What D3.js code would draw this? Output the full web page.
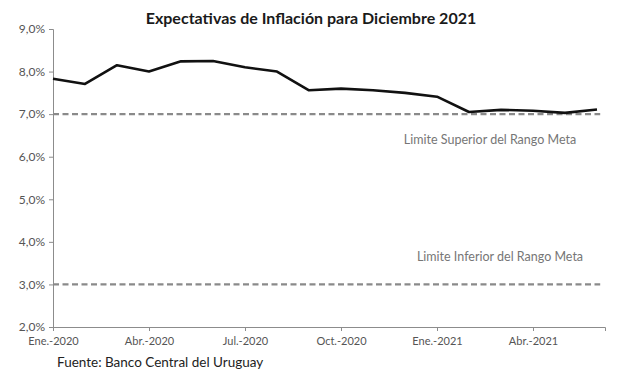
<!DOCTYPE html>
<html>
<head>
<meta charset="utf-8">
<script src="https://cdn.jsdelivr.net/npm/d3@7"></script>
<style>
  body { margin: 0; background: #fff; }
  svg { display: block; }
</style>
</head>
<body>
<svg id="chart"></svg>
<script>
// datos del gráfico
const months = ['Ene.-2020', 'Feb.-2020', 'Mar.-2020', 'Abr.-2020', 'May.-2020', 'Jun.-2020',
  'Jul.-2020', 'Ago.-2020', 'Set.-2020', 'Oct.-2020', 'Nov.-2020', 'Dic.-2020',
  'Ene.-2021', 'Feb.-2021', 'Mar.-2021', 'Abr.-2021', 'May.-2021', 'Jun.-2021']
const expectativas = [7.83, 7.71, 8.15, 8.0, 8.24, 8.25, 8.1, 8.0, 7.56, 7.6,
  7.56, 7.5, 7.41, 7.05, 7.1, 7.08, 7.03, 7.11]
const tickMonths = ['Ene.-2020', 'Abr.-2020', 'Jul.-2020', 'Oct.-2020', 'Ene.-2021', 'Abr.-2021']
const yTicks = [2, 3, 4, 5, 6, 7, 8, 9]
const limites = [
  { value: 7, label: 'Limite Superior del Rango Meta' },
  { value: 3, label: 'Limite Inferior del Rango Meta' },
]

const width = 617, height = 381
const margin = { top: 29, right: 12, bottom: 54, left: 53 }
const font = "Lato, 'Open Sans', sans-serif"

const svg = d3.select('#chart').attr('width', width).attr('height', height)

const x = d3.scaleLinear().domain([0, 17.25]).range([margin.left, width - margin.right])
const y = d3.scaleLinear().domain([2, 9]).range([height - margin.bottom, margin.top])

// título
svg.append('text')
  .attr('x', 311).attr('y', 24)
  .attr('text-anchor', 'middle')
  .attr('font-family', font).attr('font-weight', 'bold').attr('font-size', '16px')
  .attr('fill', '#1a1a1a')
  .text('Expectativas de Inflación para Diciembre 2021')

// eje Y
svg.append('g')
  .attr('transform', `translate(${margin.left},0)`)
  .call(d3.axisLeft(y).tickValues(yTicks).tickSize(4).tickPadding(4)
    .tickFormat(d => d3.format('.1f')(d).replace('.', ',') + '%'))
  .call(g => g.select('.domain').attr('stroke', '#8c8c8c'))
  .call(g => g.selectAll('.tick line').attr('stroke', '#8c8c8c'))
  .call(g => g.selectAll('.tick text')
    .attr('font-family', font).attr('font-size', '12px').attr('fill', '#555'))

// eje X
svg.append('g')
  .attr('transform', `translate(0,${y(2)})`)
  .call(d3.axisBottom(x).tickValues(tickMonths.map(m => months.indexOf(m)))
    .tickSize(4).tickPadding(6).tickFormat(i => months[i]))
  .call(g => g.select('.domain').attr('stroke', '#8c8c8c'))
  .call(g => g.selectAll('.tick line').attr('stroke', '#8c8c8c'))
  .call(g => g.selectAll('.tick text')
    .attr('font-family', font).attr('font-size', '11px').attr('fill', '#555'))

// límites del rango meta
limites.forEach(l => {
  svg.append('line')
    .attr('x1', x(0)).attr('x2', x(17.1))
    .attr('y1', y(l.value)).attr('y2', y(l.value))
    .attr('stroke', '#8a8a8a').attr('stroke-width', 2.2)
    .attr('stroke-dasharray', '6,3.5')
})

svg.append('text')
  .attr('x', 490).attr('y', y(6.4) + 4)
  .attr('text-anchor', 'middle')
  .attr('font-family', font).attr('font-size', '12.5px').attr('fill', '#767676')
  .text(limites[0].label)

svg.append('text')
  .attr('x', 500).attr('y', y(3.65) + 4)
  .attr('text-anchor', 'middle')
  .attr('font-family', font).attr('font-size', '12.5px').attr('fill', '#767676')
  .text(limites[1].label)

// serie
svg.append('path')
  .datum(expectativas)
  .attr('fill', 'none')
  .attr('stroke', '#111')
  .attr('stroke-width', 2.6)
  .attr('stroke-linejoin', 'round')
  .attr('d', d3.line().x((d, i) => x(i)).y(d => y(d)))

// fuente
svg.append('text')
  .attr('x', 57).attr('y', 367)
  .attr('font-family', font).attr('font-size', '13.5px').attr('fill', '#222')
  .text('Fuente: Banco Central del Uruguay')
</script>
</body>
</html>
